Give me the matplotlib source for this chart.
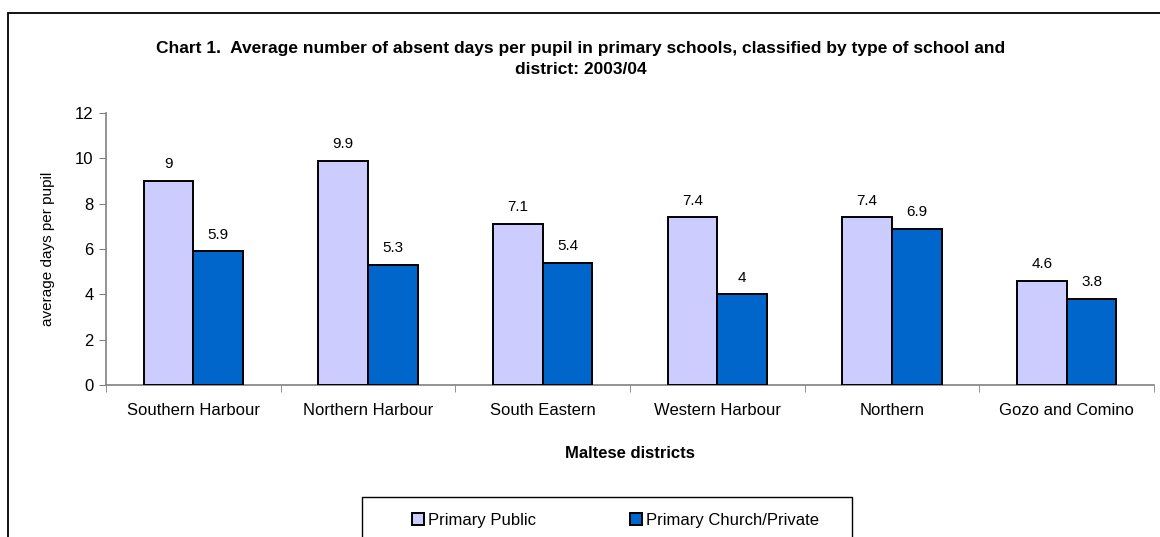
#!/usr/bin/env python3
# -*- coding: utf-8 -*-
"""
Chart 1: average absent days per pupil, primary schools, by district.
"""

import numpy as np
import matplotlib as mpl
from matplotlib import pyplot as plt
from matplotlib.patches import Rectangle

mpl.use('Agg')

# %% Data
districts = ['Southern Harbour', 'Northern Harbour', 'South Eastern',
             'Western Harbour', 'Northern', 'Gozo and Comino']
public = [9, 9.9, 7.1, 7.4, 7.4, 4.6]
church_private = [5.9, 5.3, 5.4, 4, 6.9, 3.8]
series_names = ['Primary Public', 'Primary Church/Private']
yticks = [0, 2, 4, 6, 8, 10, 12]

plt.rcParams['font.family'] = ['Liberation Sans', 'DejaVu Sans']

W, H = 1160, 537


def fx(px):
    return px / W


def fy(py):
    return 1 - py / H


# %% Figure
fig = plt.figure(figsize=(11.6, 5.37), dpi=100)
ax = fig.add_axes([fx(106), fy(385), fx(1154) - fx(106), fy(113) - fy(385)])

# outer chart frame (right and bottom run off the picture)
fig.patches.append(Rectangle((fx(8), -0.1), 1.2, fy(13) + 0.1,
                             transform=fig.transFigure, fill=False,
                             edgecolor='k', linewidth=1.3, clip_on=False))

x = np.arange(len(districts))
w = 0.285
colors = ['#CCCCFF', '#0066CC']
handles = []
for k, (vals, col) in enumerate(zip([public, church_private], colors)):
    pos = x + (k - 0.5) * w
    bars = ax.bar(pos, vals, width=w, color=col, edgecolor='k',
                  linewidth=1.4, label=series_names[k], zorder=3)
    handles.append(bars)
    for b, v in zip(bars, vals):
        ax.annotate(f'{v:g}', (b.get_x() + b.get_width()/2, v),
                    xytext=(0, 7), textcoords='offset points',
                    ha='center', va='bottom', fontsize=11)

ax.set_xlim(-0.5, len(districts) - 0.5)
ax.set_ylim(0, 12)
ax.set_yticks(yticks)
ax.set_xticks(x)
ax.set_xticklabels(districts)
ax.set_xticks(np.arange(len(districts) + 1) - 0.5, minor=True)
ax.tick_params(axis='x', which='major', length=0, pad=13, labelsize=12)
ax.tick_params(axis='x', which='minor', length=5, color='#808080')
ax.tick_params(axis='y', length=5, color='#808080', labelsize=12, pad=4)

for s in ['top', 'right']:
    ax.spines[s].set_visible(False)
for s in ['left', 'bottom']:
    ax.spines[s].set_color('#808080')
    ax.spines[s].set_linewidth(1.2)

ax.set_ylabel('average days per pupil', fontsize=11, labelpad=14)
ax.set_xlabel('Maltese districts', fontsize=12, fontweight='bold',
              labelpad=20)

fig.text(fx(581), fy(48),
         'Chart 1.  Average number of absent days per pupil in primary '
         'schools, classified by type of school and',
         ha='center', va='center', fontsize=12.5, fontweight='bold')
fig.text(fx(581), fy(70), 'district: 2003/04',
         ha='center', va='center', fontsize=12.5, fontweight='bold')

# Legend: frame drawn separately, it runs off the bottom edge
fig.patches.append(Rectangle((fx(362), -0.1), fx(852) - fx(362),
                             fy(497) + 0.1, transform=fig.transFigure,
                             fill=False, edgecolor='k', linewidth=1.0,
                             clip_on=False))
leg = fig.legend(handles, series_names, loc='center left', ncol=2,
                 bbox_to_anchor=(fx(412), fy(520)),
                 fontsize=12, frameon=False,
                 handlelength=0.72, handleheight=0.72, handletextpad=0.25,
                 columnspacing=5.6, borderpad=0, borderaxespad=0)

plt.savefig('out.png')
plt.close()
